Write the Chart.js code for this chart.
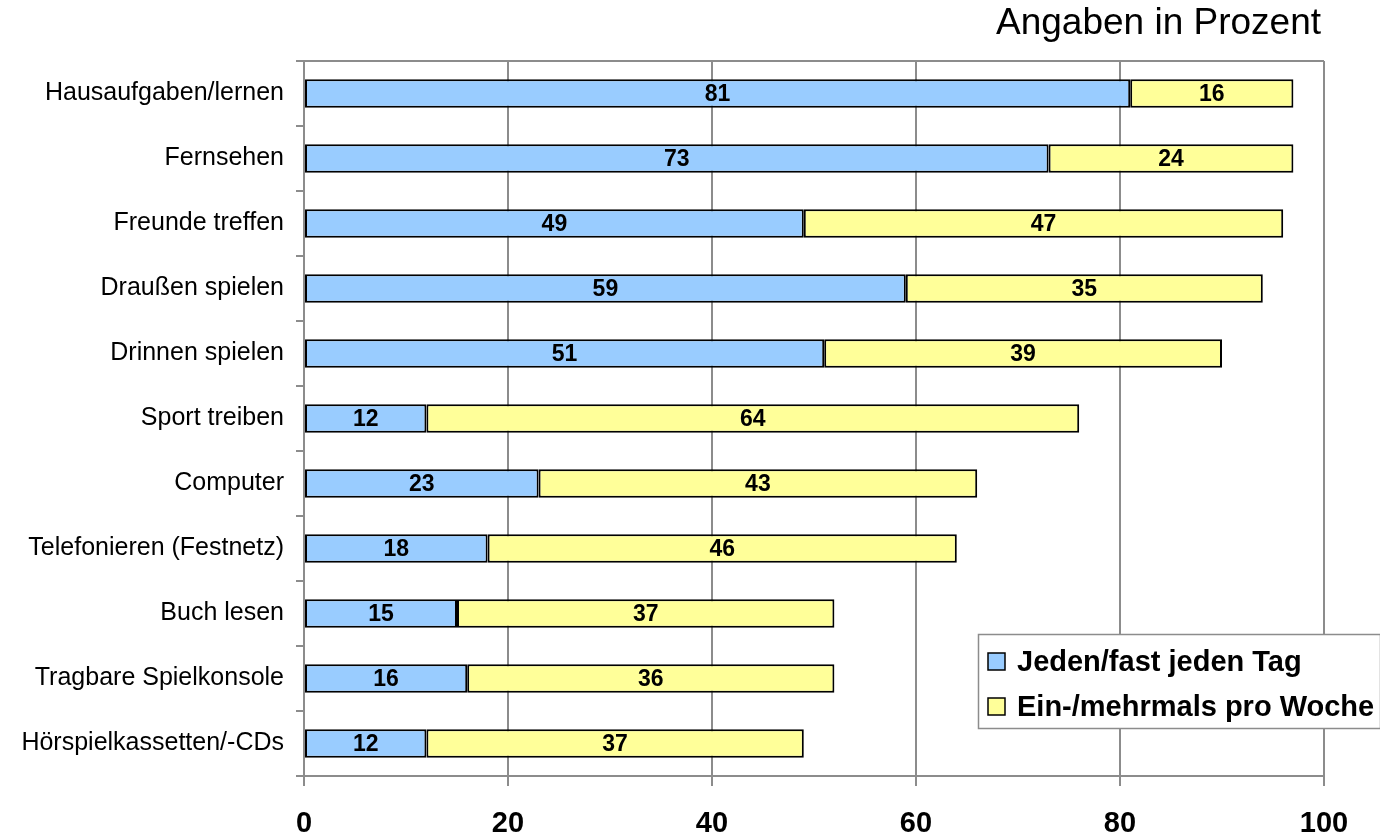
<!DOCTYPE html>
<html>
<head>
<meta charset="utf-8">
<script src="https://cdn.jsdelivr.net/npm/chart.js@4"></script>
<style>
html,body{margin:0;padding:0;background:#fff;}
#wrap{width:1380px;height:840px;position:relative;}
</style>
</head>
<body>
<div id="wrap"><canvas id="c" width="1380" height="840"></canvas></div>
<script>
const categories = ["Hausaufgaben/lernen","Fernsehen","Freunde treffen","Drau\u00dfen spielen","Drinnen spielen","Sport treiben","Computer","Telefonieren (Festnetz)","Buch lesen","Tragbare Spielkonsole","H\u00f6rspielkassetten/-CDs"];
const daily = [81,73,49,59,51,12,23,18,15,16,12];
const weekly = [16,24,47,35,39,64,43,46,37,36,37];
const seriesNames = ["Jeden/fast jeden Tag","Ein-/mehrmals pro Woche"];
const xTicks = [0,20,40,60,80,100];
const titleText = "Angaben in Prozent";

const FONT = "'Liberation Sans', Arial, sans-serif";
const GRID = "#8c8c8c";

const decor = {
  id: 'decor',
  afterDatasetsDraw(chart) {
    const ctx = chart.ctx;
    ctx.save();
    ctx.font = "bold 23px " + FONT;
    ctx.fillStyle = "#000";
    ctx.textAlign = "center";
    ctx.textBaseline = "middle";
    chart.data.datasets.forEach((ds, di) => {
      const meta = chart.getDatasetMeta(di);
      meta.data.forEach((bar, i) => {
        const v = ds.data[i];
        const left = Math.min(bar.x, bar.base), right = Math.max(bar.x, bar.base);
        ctx.fillText(String(v), (left + right) / 2, bar.y + 1);
      });
    });
    ctx.restore();
  },
  afterDraw(chart) {
    const ctx = chart.ctx;
    const a = chart.chartArea;
    ctx.save();
    ctx.strokeStyle = GRID;
    ctx.lineWidth = 2;
    ctx.beginPath();
    ctx.moveTo(a.left, a.top);
    ctx.lineTo(a.right, a.top);
    ctx.stroke();
    ctx.font = "37px " + FONT;
    ctx.fillStyle = "#000";
    ctx.textAlign = "right";
    ctx.textBaseline = "middle";
    ctx.fillText(titleText, 1321, 24);
    const lx = 978, ly = 634, lw = 402, lh = 94;
    ctx.fillStyle = "#fff";
    ctx.fillRect(lx, ly, lw, lh);
    ctx.strokeStyle = GRID;
    ctx.lineWidth = 1.5;
    ctx.strokeRect(lx + 0.5, ly + 0.5, lw, lh);
    ctx.font = "bold 29px " + FONT;
    ctx.textAlign = "left";
    chart.data.datasets.forEach((ds, di) => {
      const cy = ly + 27 + di * 45;
      ctx.fillStyle = ds.backgroundColor;
      ctx.fillRect(lx + 10, cy - 8, 17, 17);
      ctx.strokeStyle = "#000";
      ctx.lineWidth = 1.5;
      ctx.strokeRect(lx + 10, cy - 8, 17, 17);
      ctx.fillStyle = "#000";
      ctx.fillText(ds.label, lx + 39, cy + 2);
    });
    ctx.restore();
  }
};

new Chart(document.getElementById('c'), {
  type: 'bar',
  data: {
    labels: categories,
    datasets: [
      { label: seriesNames[0], data: daily, backgroundColor: "#99CCFF", borderColor: "#000", borderWidth: 2, borderSkipped: false, barPercentage: 0.44, categoryPercentage: 1 },
      { label: seriesNames[1], data: weekly, backgroundColor: "#FFFF99", borderColor: "#000", borderWidth: 2, borderSkipped: false, barPercentage: 0.44, categoryPercentage: 1 }
    ]
  },
  options: {
    indexAxis: 'y',
    responsive: false,
    animation: false,
    events: [],
    layout: { padding: { top: 61, right: 56, left: 0, bottom: 0 } },
    plugins: { legend: { display: false }, title: { display: false }, tooltip: { enabled: false } },
    scales: {
      x: {
        stacked: true,
        min: 0, max: 100,
        afterBuildTicks(axis) { axis.ticks = xTicks.map(v => ({ value: v })); },
        grid: { color: GRID, lineWidth: 2, tickLength: 10, drawOnChartArea: true },
        border: { color: GRID, width: 2 },
        ticks: { color: "#000", font: { family: FONT, size: 29, weight: 'bold' }, padding: 21, maxRotation: 0 },
        afterFit(axis) { axis.height = 64; }
      },
      y: {
        stacked: true,
        grid: { color: GRID, lineWidth: 2, offset: true, drawOnChartArea: false, tickLength: 8 },
        border: { color: GRID, width: 2 },
        ticks: { color: "#000", font: { family: FONT, size: 25 }, padding: 12, autoSkip: false },
        afterFit(axis) { axis.width = 304; }
      }
    }
  },
  plugins: [decor]
});
</script>
</body>
</html>
